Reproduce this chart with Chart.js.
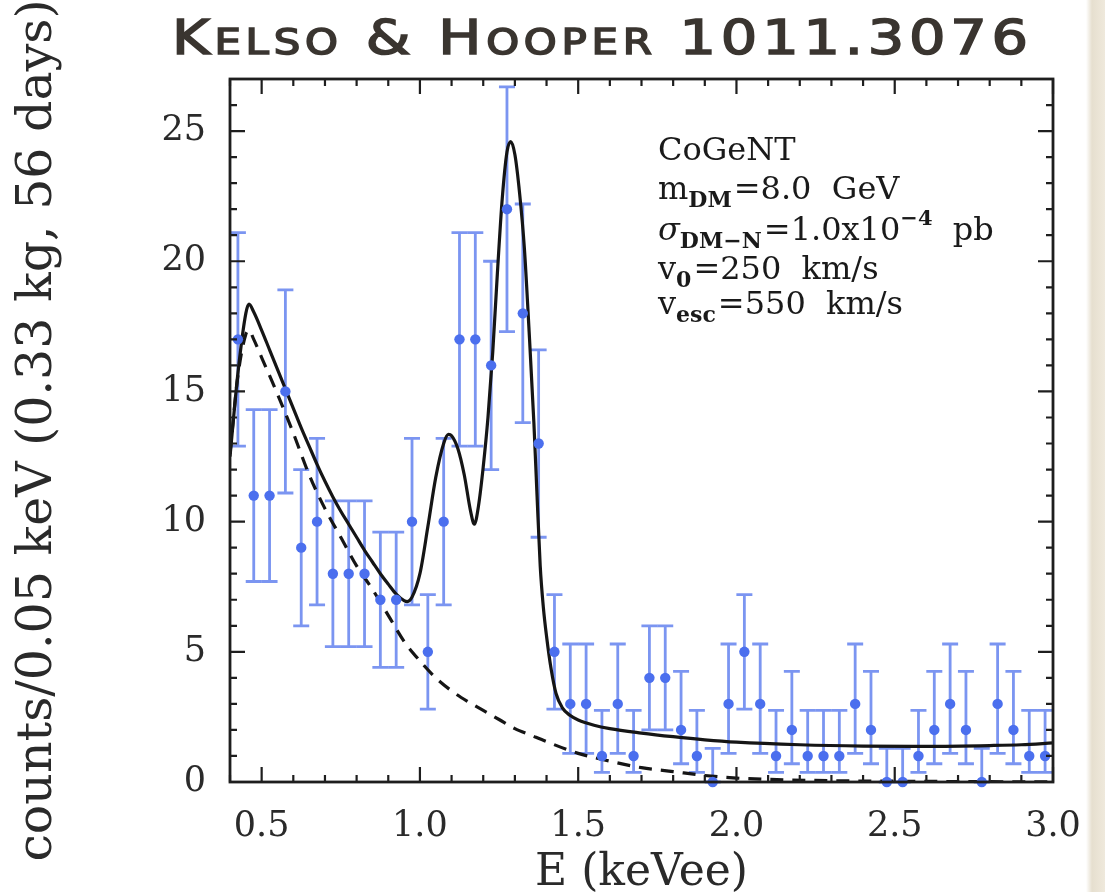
<!DOCTYPE html>
<html><head><meta charset="utf-8">
<script src="https://cdn.jsdelivr.net/npm/chart.js@4/dist/chart.umd.min.js"></script>
<style>
html,body{margin:0;padding:0;}
body{width:1105px;height:892px;overflow:hidden;background:linear-gradient(to right,#ffffff 0,#ffffff 1086px,#e6dfcf 1092px,#efe9dc 1105px);}
canvas{display:block;}
</style></head><body>
<canvas id="c" width="1105" height="892"></canvas>
<script>
// ---------------- data ----------------
const titleText = 'Kelso & Hooper 1011.3076';
const xTitle = 'E (keVee)';
const yTitle = 'counts/0.05 keV (0.33 kg, 56 days)';
const xTickLabels = [0.5, 1.0, 1.5, 2.0, 2.5, 3.0];
const yTickLabels = [0, 5, 10, 15, 20, 25];

const binCenters = [0.425,0.475,0.525,0.575,0.625,0.675,0.725,0.775,0.825,0.875,0.925,0.975,
  1.025,1.075,1.125,1.175,1.225,1.275,1.325,1.375,1.425,1.475,1.525,1.575,1.625,1.675,1.725,1.775,
  1.825,1.875,1.925,1.975,2.025,2.075,2.125,2.175,2.225,2.275,2.325,2.375,2.425,2.475,2.525,2.575,
  2.625,2.675,2.725,2.775,2.825,2.875,2.925,2.975];
const counts = [17,11,11,15,9,10,8,8,8,7,7,10,
  5,10,17,17,16,22,18,13,5,3,3,1,3,1,4,4,
  2,1,0,3,5,3,1,2,1,1,1,3,2,0,0,1,
  2,3,2,0,3,2,1,1];
const errLow = [12.9,7.7,7.7,11.1,6.0,6.8,5.2,5.2,5.2,4.4,4.4,6.8,
  2.8,6.8,12.9,12.9,12.0,17.3,13.8,9.4,2.8,1.1,1.1,0.37,1.1,0.37,2.0,2.0,
  0.7,0.37,0,1.1,2.8,1.1,0.37,0.7,0.37,0.37,0.37,1.1,0.7,0,0,0.37,
  0.7,1.1,0.7,0,1.1,0.7,0.37,0.37];
const errHigh = [21.1,14.3,14.3,18.9,12.0,13.2,10.8,10.8,10.8,9.6,9.6,13.2,
  7.2,13.2,21.1,21.1,20.0,26.7,22.2,16.6,7.2,5.3,5.3,2.75,5.3,2.75,6.0,6.0,
  4.25,2.75,1.29,5.3,7.2,5.3,2.75,4.25,2.75,2.75,2.75,5.3,4.25,1.29,1.29,2.75,
  4.25,5.3,4.25,1.29,5.3,4.25,2.75,2.75];

// total model (solid)
const totalE = [0.400,0.425,0.450,0.460,0.475,0.500,0.525,0.550,0.575,0.600,0.625,0.650,0.675,0.700,
  0.725,0.750,0.775,0.800,0.825,0.850,0.875,0.900,0.925,0.950,0.960,0.975,1.000,1.025,1.050,1.075,
  1.090,1.100,1.120,1.140,1.160,1.172,1.185,1.200,1.215,1.230,1.245,1.260,1.275,1.287,1.300,1.315,
  1.330,1.345,1.360,1.370,1.380,1.390,1.400,1.415,1.430,1.450,1.475,1.500,1.550,1.600,1.700,1.800,
  1.900,2.000,2.200,2.400,2.600,2.800,2.900,3.000];
const totalY = [12.5,15.7,18.0,18.35,18.05,17.35,16.6,15.85,15.1,14.35,13.6,12.9,12.2,11.55,
  10.95,10.4,9.9,9.4,8.9,8.45,8.0,7.6,7.22,6.97,6.93,7.1,8.0,9.8,11.7,13.0,
  13.35,13.3,12.8,11.8,10.4,9.9,10.6,12.1,14.0,16.5,19.6,22.4,24.2,24.6,24.1,22.6,
  20.5,17.3,13.8,11.0,8.3,6.7,5.6,4.3,3.4,2.85,2.55,2.38,2.18,2.05,1.88,1.74,
  1.62,1.53,1.43,1.38,1.37,1.40,1.43,1.50];

// dark-matter only (dashed)
const dmE = [0.400,0.425,0.450,0.460,0.475,0.500,0.550,0.600,0.650,0.700,0.750,0.800,0.850,0.900,
  0.950,1.000,1.050,1.100,1.150,1.200,1.250,1.300,1.350,1.400,1.500,1.600,1.700,1.800,1.900,2.000,
  2.100,2.300,2.500,3.000];
const dmY = [12.6,15.6,17.2,17.35,17.0,16.3,14.9,13.4,11.8,10.5,9.4,8.3,7.4,6.4,
  5.4,4.65,4.0,3.5,3.1,2.75,2.4,2.05,1.8,1.55,1.1,0.8,0.55,0.4,0.25,0.15,
  0.1,0.05,0.03,0.0];

const annLines = [
  [{t:'CoGeNT'}],
  [{t:'m'},{t:'DM',sub:true},{t:'=8.0  GeV'}],
  [{t:'σ',it:true},{t:'DM−N',sub:true},{t:'=1.0x10'},{t:'−4',sup:true},{t:'  pb'}],
  [{t:'v'},{t:'0',sub:true},{t:'=250  km/s'}],
  [{t:'v'},{t:'esc',sub:true},{t:'=550  km/s'}]
];

// ---------------- style ----------------
const SERIF = '"DejaVu Serif", serif';
const pointColor = '#4b6fee';
const barColor = 'rgba(100,130,238,0.85)';
const lineColor = '#151515';

const pts = binCenters.map((x,i)=>({x, y: counts[i]}));
const totalPts = totalE.map((x,i)=>({x, y: totalY[i]}));
const dmPts = dmE.map((x,i)=>({x, y: dmY[i]}));

const errorBarPlugin = {
  id: 'errbars',
  beforeDatasetsDraw(chart) {
    const {ctx, scales:{x, y}} = chart;
    ctx.save();
    ctx.strokeStyle = barColor;
    ctx.lineWidth = 2.8;
    const cap = 8;
    binCenters.forEach((e,i)=>{
      const px = x.getPixelForValue(e);
      const lo = y.getPixelForValue(errLow[i]);
      const hi = y.getPixelForValue(errHigh[i]);
      ctx.beginPath();
      ctx.moveTo(px, lo); ctx.lineTo(px, hi);
      ctx.moveTo(px-cap, hi); ctx.lineTo(px+cap, hi);
      ctx.moveTo(px-cap, lo); ctx.lineTo(px+cap, lo);
      ctx.stroke();
    });
    ctx.restore();
  }
};

const framePlugin = {
  id: 'frame',
  afterDatasetsDraw(chart) {
    const {ctx, chartArea:{left,right,top,bottom}, scales:{x,y}} = chart;
    ctx.save();
    ctx.strokeStyle = '#1e1e1e';
    ctx.lineWidth = 2.8;
    ctx.strokeRect(left, top, right-left, bottom-top);
    ctx.lineWidth = 2.2;
    const majL = 15, minL = 7;
    ctx.beginPath();
    for (let k = 4; k <= 30; k++) {
      const v = k/10;
      const px = x.getPixelForValue(v);
      const L = (k % 5 === 0) ? majL : minL;
      ctx.moveTo(px, bottom); ctx.lineTo(px, bottom - L);
      ctx.moveTo(px, top); ctx.lineTo(px, top + L);
    }
    for (let k = 0; k <= 27; k++) {
      const py = y.getPixelForValue(k);
      const L = (k % 5 === 0) ? majL : minL;
      ctx.moveTo(left, py); ctx.lineTo(left + L, py);
      ctx.moveTo(right, py); ctx.lineTo(right - L, py);
    }
    ctx.stroke();
    ctx.restore();
  }
};

const annPlugin = {
  id: 'ann',
  afterDraw(chart) {
    const ctx = chart.ctx;
    ctx.save();
    ctx.fillStyle = '#1a1a1a';
    ctx.textBaseline = 'alphabetic';
    const x0 = 658;
    const baselines = [160, 199, 240, 279, 314];
    annLines.forEach((line, li) => {
      let cx = x0;
      const by = baselines[li];
      line.forEach(seg => {
        let size = 32, dy = 0, weight = 'normal', style = 'normal';
        if (seg.sub) { size = 22; dy = 8; weight = 'bold'; }
        if (seg.sup) { size = 21; dy = -15; weight = 'bold'; }
        if (seg.it) { style = 'italic'; }
        ctx.font = `${style} ${weight} ${size}px ${SERIF}`;
        ctx.fillText(seg.t, cx, by + dy);
        cx += ctx.measureText(seg.t).width + (seg.sub ? 2 : 0);
      });
    });
    ctx.restore();
  }
};

const titlePlugin = {
  id: 'bigtitle',
  afterDraw(chart) {
    const ctx = chart.ctx;
    ctx.save();
    const big = 48, small = 35, fam = '"DejaVu Sans", sans-serif', spacing = 4;
    const segs = [];
    for (const ch of titleText) {
      if (/[a-z]/.test(ch)) segs.push({t: ch.toUpperCase(), s: small});
      else segs.push({t: ch, s: big});
    }
    let total = 0;
    segs.forEach(sg => { ctx.font = `normal ${sg.s}px ${fam}`; sg.w = ctx.measureText(sg.t).width; total += sg.w + spacing; });
    total -= spacing;
    const xL = 172, xR = 1028, base = 54;
    const sx = (xR - xL) / total;
    ctx.translate(xL, base);
    ctx.scale(sx, 1);
    ctx.fillStyle = '#3a3530';
    ctx.strokeStyle = '#3a3530';
    ctx.lineWidth = 1.6;
    let cx = 0;
    segs.forEach(sg => {
      ctx.font = `normal ${sg.s}px ${fam}`;
      ctx.fillText(sg.t, cx, 0);
      ctx.strokeText(sg.t, cx, 0);
      cx += sg.w + spacing;
    });
    ctx.restore();
  }
};

new Chart(document.getElementById('c'), {
  type: 'scatter',
  data: {
    datasets: [
      { label: 'CoGeNT data', data: pts, backgroundColor: pointColor, borderColor: pointColor,
        pointRadius: 5.2, pointHoverRadius: 5.2, borderWidth: 0, order: 0, clip: false },
      { label: 'total', data: totalPts, showLine: true, borderColor: lineColor, borderWidth: 3.2,
        pointRadius: 0, cubicInterpolationMode: 'monotone', order: 1 },
      { label: 'dark matter', data: dmPts, showLine: true, borderColor: lineColor, borderWidth: 3.2,
        borderDash: [13, 9], pointRadius: 0, cubicInterpolationMode: 'monotone', order: 2 }
    ]
  },
  options: {
    responsive: false,
    devicePixelRatio: 1,
    animation: false,
    layout: { padding: { top: 79, right: 52, left: 0, bottom: 0 } },
    plugins: { legend: { display: false }, tooltip: { enabled: false }, title: { display: false } },
    scales: {
      x: {
        type: 'linear', min: 0.4, max: 3.0,
        afterBuildTicks: s => { s.ticks = xTickLabels.map(v => ({value: v})); },
        afterFit: s => { s.height = 110; },
        grid: { display: false, drawTicks: false },
        border: { display: false },
        ticks: { color: '#2a2a2a', padding: 24, font: { family: SERIF, size: 35 },
                 callback: v => Number(v).toFixed(1), maxRotation: 0 },
        title: { display: true, text: xTitle, color: '#2a2a2a', font: { family: SERIF, size: 44, lineHeight: 1.0 },
                 padding: { top: 0, bottom: -4 } }
      },
      y: {
        type: 'linear', min: 0, max: 27,
        afterBuildTicks: s => { s.ticks = yTickLabels.map(v => ({value: v})); },
        afterFit: s => { s.width = 230; },
        grid: { display: false, drawTicks: false },
        border: { display: false },
        ticks: { color: '#2a2a2a', padding: 24, font: { family: SERIF, size: 35 } },
        title: { display: true, text: yTitle, color: '#2a2a2a', font: { family: SERIF, size: 49, lineHeight: 1.2 },
                 padding: { top: 9, bottom: 0 } }
      }
    }
  },
  plugins: [errorBarPlugin, framePlugin, annPlugin, titlePlugin]
});
</script>
</body></html>
